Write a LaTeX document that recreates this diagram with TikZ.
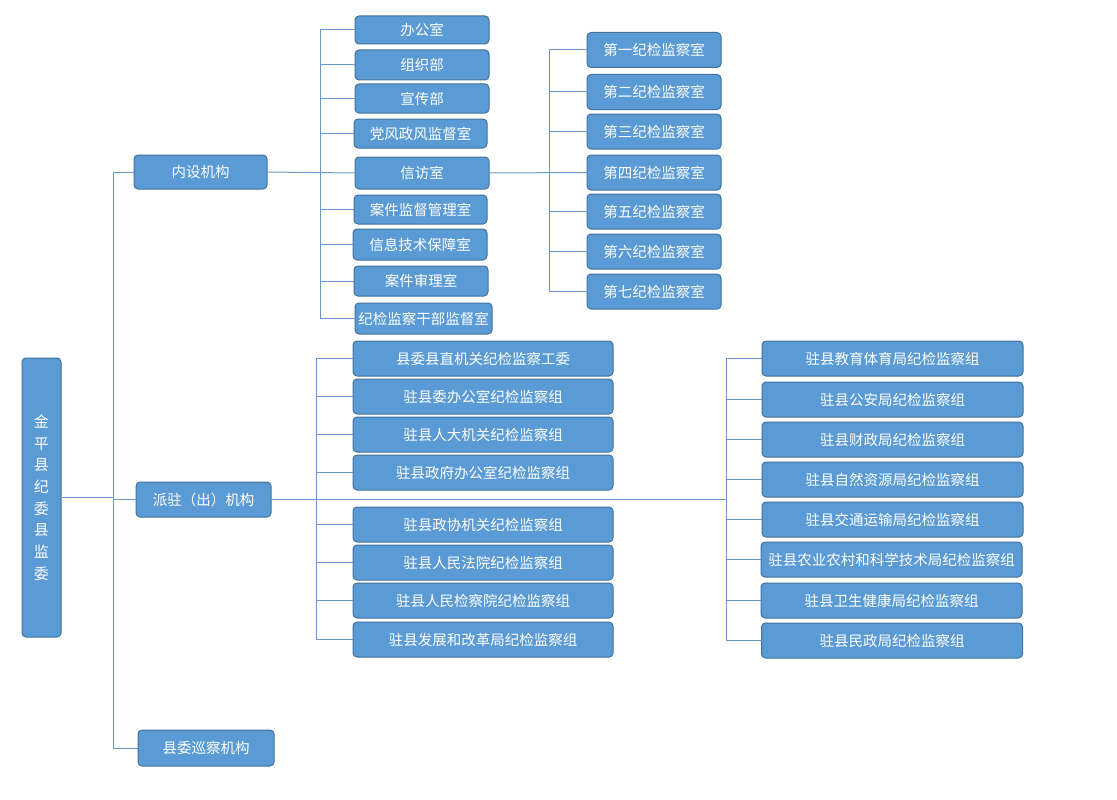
\documentclass[tikz,border=0pt]{standalone}
\usepackage{fontspec}
\setmainfont{Noto Sans CJK SC}
\definecolor{boxfill}{RGB}{91,155,213}
\definecolor{boxdraw}{RGB}{65,113,156}
\definecolor{linec}{RGB}{105,152,204}
\tikzset{
  box/.style={rounded corners=4pt, fill=boxfill, draw=boxdraw, line width=1pt,
    text=white, font=\fontsize{14.5}{16}\selectfont, inner sep=0pt, outer sep=0pt,
    minimum width=134pt, minimum height=30pt},
  conn/.style={draw=linec, line width=1pt},
}
\begin{document}
\begin{tikzpicture}[x=1pt,y=-1pt]
\useasboundingbox[fill=white] (0,0) rectangle (1117,800);
% root
\node[box, minimum width=39pt, minimum height=279pt, align=center,
  font=\fontsize{15}{21.7}\selectfont] (root) at (41.5,497.5)
  {金\\平\\县\\纪\\委\\县\\监\\委};
% level 1
\node[box, minimum width=133pt, minimum height=34pt] (nei) at (200.5,172) {内设机构};
\node[box, minimum width=135pt, minimum height=35pt] (pz) at (203.5,499.5) {派驻（出）机构};
\node[box, minimum width=136pt, minimum height=36pt] (xc) at (206,748) {县委巡察机构};
% 内设 children
\node[box, minimum height=28pt] (a1) at (422,30) {办公室};
\node[box, minimum height=30pt] (a2) at (422,65) {组织部};
\node[box, minimum height=29pt] (a3) at (422,98.5) {宣传部};
\node[box, minimum width=133pt, minimum height=29pt] (a4) at (420.5,133.5) {党风政风监督室};
\node[box, minimum height=32pt] (a5) at (422,173) {信访室};
\node[box, minimum width=133pt, minimum height=29pt] (a6) at (420.5,209.5) {案件监督管理室};
\node[box, minimum height=31pt] (a7) at (420,244.5) {信息技术保障室};
\node[box, minimum height=30pt] (a8) at (421,281) {案件审理室};
\node[box, minimum width=137pt, minimum height=31pt] (a9) at (423.5,318.5) {纪检监察干部监督室};
% 信访 children
\node[box, minimum height=35pt] (j1) at (654,50) {第一纪检监察室};
\node[box, minimum height=35pt] (j2) at (654,92) {第二纪检监察室};
\node[box, minimum height=35pt] (j3) at (654,131.5) {第三纪检监察室};
\node[box, minimum height=35pt] (j4) at (654,172.5) {第四纪检监察室};
\node[box, minimum height=35pt] (j5) at (654,211.5) {第五纪检监察室};
\node[box, minimum height=35pt] (j6) at (654,251.5) {第六纪检监察室};
\node[box, minimum height=35pt] (j7) at (654,291.5) {第七纪检监察室};
% 派驻 left column
\tikzset{wl/.style={box, minimum width=260pt, minimum height=35pt},
         wr/.style={box, minimum width=261pt, minimum height=35pt}}
\node[wl] (p1) at (483,358.5) {县委县直机关纪检监察工委};
\node[wl] (p2) at (483,396.5) {驻县委办公室纪检监察组};
\node[wl] (p3) at (483,434.5) {驻县人大机关纪检监察组};
\node[wl] (p4) at (483,472.5) {驻县政府办公室纪检监察组};
\node[wl] (p5) at (483,524.5) {驻县政协机关纪检监察组};
\node[wl] (p6) at (483,562.5) {驻县人民法院纪检监察组};
\node[wl] (p7) at (483,600.5) {驻县人民检察院纪检监察组};
\node[wl] (p8) at (483,639.5) {驻县发展和改革局纪检监察组};
% 派驻 right column
\node[wr] (q1) at (892.5,358.5) {驻县教育体育局纪检监察组};
\node[wr] (q2) at (892.5,399.5) {驻县公安局纪检监察组};
\node[wr] (q3) at (892.5,439.5) {驻县财政局纪检监察组};
\node[wr] (q4) at (892.5,479.5) {驻县自然资源局纪检监察组};
\node[wr] (q5) at (892.5,519.5) {驻县交通运输局纪检监察组};
\node[wr] (q6) at (891.5,559.5) {驻县农业农村和科学技术局纪检监察组};
\node[wr] (q7) at (891.5,600.5) {驻县卫生健康局纪检监察组};
\node[wr] (q8) at (892,640.5) {驻县民政局纪检监察组};
% spine coordinates
\coordinate (s1) at (113,0);
\coordinate (s2) at (320,0);
\coordinate (s3) at (549,0);
\coordinate (s4) at (316,0);
\coordinate (s5) at (726,0);
% root connectors
\draw[conn] (root.east) -- (s1 |- root.east);
\draw[conn] (s1 |- nei.west) -- (s1 |- xc.west);
\foreach \n in {nei,pz,xc} \draw[conn] (s1 |- \n.west) -- (\n.west);
% 内设
\draw[conn] (nei.east) -- (a5.west);
\draw[conn] (s2 |- a1.west) -- (s2 |- a9.west);
\foreach \n in {a1,a2,a3,a4,a6,a7,a8,a9} \draw[conn] (s2 |- \n.west) -- (\n.west);
% 信访
\draw[conn] (a5.east) -- (j4.west);
\draw[conn] (s3 |- j1.west) -- (s3 |- j7.west);
\foreach \n in {j1,j2,j3,j5,j6,j7} \draw[conn] (s3 |- \n.west) -- (\n.west);
% 派驻
\draw[conn] (pz.east) -- (s5 |- pz.east);
\draw[conn] (s4 |- p1.west) -- (s4 |- p8.west);
\foreach \n in {p1,p2,p3,p4,p5,p6,p7,p8} \draw[conn] (s4 |- \n.west) -- (\n.west);
\draw[conn] (s5 |- q1.west) -- (s5 |- q8.west);
\foreach \n in {q1,q2,q3,q4,q5,q6,q7,q8} \draw[conn] (s5 |- \n.west) -- (\n.west);
\end{tikzpicture}
\end{document}
